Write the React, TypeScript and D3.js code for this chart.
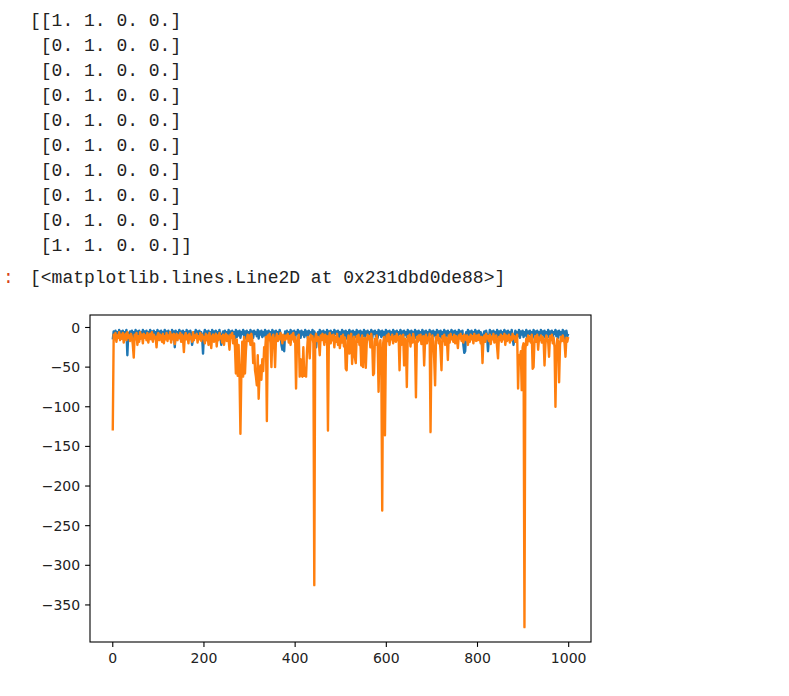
import React from "react";
import * as d3 from "d3";

const MATRIX_ROWS = [
  "[[1. 1. 0. 0.]",
  " [0. 1. 0. 0.]",
  " [0. 1. 0. 0.]",
  " [0. 1. 0. 0.]",
  " [0. 1. 0. 0.]",
  " [0. 1. 0. 0.]",
  " [0. 1. 0. 0.]",
  " [0. 1. 0. 0.]",
  " [0. 1. 0. 0.]",
  " [1. 1. 0. 0.]]",
];
const OUT_PROMPT = ":";
const OUT_TEXT = "[<matplotlib.lines.Line2D at 0x231dbd0de88>]";

const EPISODES = 1000;

// blue series (sampled every 2 episodes)
const blueRewards = [
  -15, -5, -12, -4, -10, -6, -13, -3, -9, -5,
  -14, -4, -11, -6, -8, -3, -35, -7, -12, -5,
  -9, -4, -13, -6, -10, -3, -12, -5, -8, -4,
  -14, -6, -9, -3, -11, -5, -13, -4, -10, -6,
  -8, -3, -12, -5, -14, -4, -9, -6, -11, -3,
  -13, -5, -10, -4, -12, -6, -8, -3, -14, -5,
  -11, -4, -9, -6, -13, -3, -10, -5, -25, -4,
  -12, -6, -8, -3, -14, -5, -11, -4, -9, -6,
  -13, -3, -10, -5, -12, -4, -8, -22, -14, -6,
  -9, -3, -11, -5, -13, -4, -10, -6, -12, -33,
  -8, -3, -14, -5, -9, -4, -11, -6, -13, -3,
  -10, -5, -12, -4, -8, -6, -14, -3, -11, -22,
  -9, -5, -13, -4, -10, -6, -12, -3, -20, -5,
  -11, -4, -9, -6, -14, -3, -12, -5, -10, -4,
  -13, -6, -8, -3, -11, -5, -14, -4, -9, -6,
  -12, -3, -10, -5, -13, -4, -8, -6, -11, -3,
  -14, -5, -9, -4, -12, -6, -10, -3, -13, -5,
  -8, -4, -11, -6, -14, -3, -9, -5, -12, -4,
  -10, -6, -13, -3, -8, -22, -28, -12, -30, -5,
  -9, -4, -11, -6, -13, -3, -10, -5, -12, -4,
  -14, -6, -8, -3, -11, -5, -13, -4, -9, -6,
  -12, -3, -10, -5, -14, -4, -8, -6, -11, -3,
  -13, -5, -9, -25, -12, -6, -10, -3, -14, -5,
  -8, -4, -11, -6, -13, -3, -9, -5, -12, -4,
  -10, -6, -14, -3, -8, -5, -11, -4, -13, -6,
  -9, -3, -12, -5, -10, -4, -14, -6, -8, -3,
  -11, -5, -13, -4, -9, -6, -12, -3, -10, -5,
  -14, -4, -8, -6, -11, -3, -13, -5, -9, -4,
  -12, -6, -10, -3, -14, -5, -8, -4, -11, -6,
  -13, -3, -9, -5, -12, -4, -10, -6, -14, -3,
  -8, -5, -11, -4, -13, -6, -9, -3, -12, -5,
  -10, -4, -14, -6, -8, -3, -11, -5, -13, -4,
  -9, -6, -12, -3, -10, -5, -14, -4, -8, -6,
  -11, -3, -13, -5, -9, -4, -12, -6, -10, -3,
  -14, -5, -8, -4, -11, -6, -13, -3, -9, -5,
  -12, -4, -10, -6, -14, -3, -8, -5, -11, -4,
  -13, -6, -9, -3, -12, -5, -10, -4, -14, -6,
  -8, -3, -11, -5, -13, -4, -9, -6, -12, -3,
  -10, -5, -14, -4, -22, -32, -30, -6, -11, -3,
  -13, -5, -9, -4, -12, -6, -10, -3, -14, -5,
  -8, -4, -11, -6, -13, -30, -9, -5, -12, -4,
  -10, -30, -14, -3, -8, -5, -11, -4, -13, -6,
  -9, -3, -12, -5, -10, -4, -14, -6, -8, -3,
  -11, -5, -13, -4, -9, -6, -12, -3, -10, -22,
  -14, -4, -8, -6, -11, -3, -13, -5, -9, -4,
  -12, -6, -10, -3, -14, -5, -8, -4, -11, -6,
  -13, -3, -9, -5, -12, -4, -10, -6, -14, -3,
  -8, -5, -11, -4, -13, -6, -9, -3, -12, -5,
  -10, -4, -14, -6, -8, -3, -11, -5, -13, -4,
  -9, -6, -12, -3, -10, -5, -22, -4, -11, -8,
];

// orange series (sampled every 2 episodes)
const orangeRewards = [
  -130, -9, -15, -7, -18, -10, -13, -6, -16, -9,
  -14, -7, -19, -11, -8, -16, -6, -13, -10, -17,
  -8, -12, -22, -38, -9, -15, -7, -22, -11, -18,
  -6, -14, -9, -20, -8, -13, -10, -16, -7, -19,
  -11, -8, -15, -6, -18, -9, -14, -12, -25, -10,
  -7, -16, -9, -13, -18, -8, -20, -11, -15, -7,
  -17, -10, -14, -6, -19, -9, -15, -8, -21, -12,
  -8, -16, -10, -13, -7, -18, -9, -14, -31, -11,
  -7, -15, -10, -20, -8, -14, -12, -18, -6, -16,
  -10, -13, -8, -19, -11, -15, -7, -17, -9, -14,
  -12, -20, -8, -16, -10, -22, -7, -15, -26, -11,
  -9, -18, -13, -8, -24, -10, -16, -7, -14, -11,
  -19, -9, -22, -12, -8, -17, -10, -15, -28, -9,
  -13, -7, -20, -11, -25, -58, -15, -61, -22, -60,
  -134, -59, -18, -62, -12, -58, -30, -14, -9, -17,
  -10, -22, -8, -15, -45, -20, -54, -62, -73, -35,
  -90, -58, -48, -66, -40, -55, -25, -30, -12, -118,
  -10, -16, -8, -20, -50, -12, -9, -18, -50, -14,
  -8, -17, -11, -15, -7, -13, -20, -9, -12, -16,
  -10, -14, -8, -19, -11, -22, -9, -15, -7, -18,
  -12, -77, -20, -14, -9, -62, -40, -60, -62, -25,
  -61, -58, -62, -30, -12, -18, -39, -9, -15, -11,
  -20, -325, -14, -8, -17, -12, -19, -35, -10, -16,
  -8, -14, -22, -9, -18, -11, -130, -13, -7, -20,
  -10, -16, -9, -25, -12, -18, -8, -22, -14, -26,
  -11, -19, -9, -24, -13, -52, -54, -17, -10, -33,
  -15, -8, -46, -20, -12, -38, -45, -11, -18, -9,
  -22, -14, -48, -10, -50, -16, -13, -51, -20, -9,
  -15, -11, -25, -8, -18, -60, -58, -14, -22, -10,
  -19, -81, -30, -16, -45, -231, -20, -12, -136, -25,
  -10, -17, -8, -22, -12, -15, -9, -20, -14, -11,
  -18, -8, -16, -12, -54, -10, -22, -15, -9, -48,
  -14, -20, -75, -11, -17, -9, -24, -13, -19, -8,
  -15, -22, -88, -12, -18, -10, -16, -9, -21, -14,
  -11, -48, -17, -9, -20, -13, -15, -8, -132, -22,
  -10, -18, -40, -73, -12, -16, -9, -20, -14, -30,
  -54, -11, -17, -9, -22, -13, -16, -41, -10, -19,
  -8, -15, -12, -18, -9, -20, -11, -16, -26, -10,
  -14, -8, -17, -11, -19, -9, -13, -16, -10, -22,
  -12, -18, -9, -15, -11, -20, -8, -14, -17, -10,
  -16, -9, -13, -20, -12, -45, -15, -10, -18, -8,
  -14, -11, -17, -9, -21, -12, -15, -8, -19, -13,
  -10, -25, -39, -12, -16, -9, -18, -11, -15, -8,
  -22, -10, -17, -13, -9, -19, -12, -16, -8, -14,
  -11, -18, -15, -9, -77, -35, -40, -30, -79, -25,
  -20, -378, -28, -14, -22, -10, -17, -12, -19, -9,
  -52, -50, -15, -11, -18, -9, -28, -13, -16, -10,
  -19, -12, -15, -48, -22, -10, -14, -18, -37, -11,
  -16, -9, -20, -13, -25, -100, -30, -14, -18, -69,
  -22, -12, -17, -10, -15, -20, -37, -13, -18, -12,
];

const xTicks = [0, 200, 400, 600, 800, 1000];
const yTicks = [0, -50, -100, -150, -200, -250, -300, -350];

const W = 789;
const H = 696;
const AX = { left: 90, right: 591, top: 315, bottom: 642 };

function toPoints(vals: number[]): [number, number][] {
  const n = vals.length;
  return vals.map((v, k) => [Math.round((k * (EPISODES - 1)) / (n - 1)), v]);
}

function fmt(v: number): string {
  return v < 0 ? "\u2212" + Math.abs(v) : String(v);
}

export default function App() {
  const bluePts = toPoints(blueRewards);
  const orangePts = toPoints(orangeRewards);

  const xSpan = EPISODES - 1;
  const x = d3
    .scaleLinear()
    .domain([0 - 0.05 * xSpan, xSpan + 0.05 * xSpan])
    .range([AX.left, AX.right]);

  const all = blueRewards.concat(orangeRewards);
  const [ymin, ymax] = d3.extent(all) as [number, number];
  const ySpan = ymax - ymin;
  const y = d3
    .scaleLinear()
    .domain([ymin - 0.05 * ySpan, ymax + 0.05 * ySpan])
    .range([AX.bottom, AX.top]);

  const line = d3
    .line<[number, number]>()
    .x((d) => x(d[0]))
    .y((d) => y(d[1]));

  const tickLen = 4.9;
  const font = "DejaVu Sans, sans-serif";
  const mono = "Liberation Mono, DejaVu Sans Mono, monospace";

  return (
    <svg
      width={W}
      height={H}
      style={{ position: "absolute", left: 0, top: 0, background: "#fff" }}
    >
      <rect x={0} y={0} width={W} height={H} fill="#fff" />
      {MATRIX_ROWS.map((row, i) => (
        <text
          key={i}
          x={30}
          y={26 + i * 25}
          fontFamily={mono}
          fontSize={18}
          fill="#222"
          style={{ whiteSpace: "pre" }}
          xmlSpace="preserve"
        >
          {row}
        </text>
      ))}
      <text x={3} y={283} fontFamily={mono} fontSize={18} fill="#d84315">
        {OUT_PROMPT}
      </text>
      <text x={30} y={283} fontFamily={mono} fontSize={18} fill="#222">
        {OUT_TEXT}
      </text>

      <defs>
        <clipPath id="axclip">
          <rect
            x={AX.left}
            y={AX.top}
            width={AX.right - AX.left}
            height={AX.bottom - AX.top}
          />
        </clipPath>
      </defs>

      <g clipPath="url(#axclip)">
        <path
          d={line(bluePts) || ""}
          fill="none"
          stroke="#1f77b4"
          strokeWidth={2.4}
          strokeLinejoin="round"
        />
        <path
          d={line(orangePts) || ""}
          fill="none"
          stroke="#ff7f0e"
          strokeWidth={2.4}
          strokeLinejoin="round"
        />
      </g>

      <rect
        x={AX.left}
        y={AX.top}
        width={AX.right - AX.left}
        height={AX.bottom - AX.top}
        fill="none"
        stroke="#000"
        strokeWidth={1.1}
      />

      {xTicks.map((t) => (
        <g key={"x" + t}>
          <line
            x1={x(t)}
            x2={x(t)}
            y1={AX.bottom}
            y2={AX.bottom + tickLen}
            stroke="#000"
            strokeWidth={1.1}
          />
          <text
            x={x(t)}
            y={AX.bottom + tickLen + 4.9 + 11}
            textAnchor="middle"
            fontFamily={font}
            fontSize={14}
            fill="#222"
          >
            {fmt(t)}
          </text>
        </g>
      ))}
      {yTicks.map((t) => (
        <g key={"y" + t}>
          <line
            x1={AX.left - tickLen}
            x2={AX.left}
            y1={y(t)}
            y2={y(t)}
            stroke="#000"
            strokeWidth={1.1}
          />
          <text
            x={AX.left - tickLen - 4.9}
            y={y(t)}
            dy="0.36em"
            textAnchor="end"
            fontFamily={font}
            fontSize={14}
            fill="#222"
          >
            {fmt(t)}
          </text>
        </g>
      ))}
    </svg>
  );
}
